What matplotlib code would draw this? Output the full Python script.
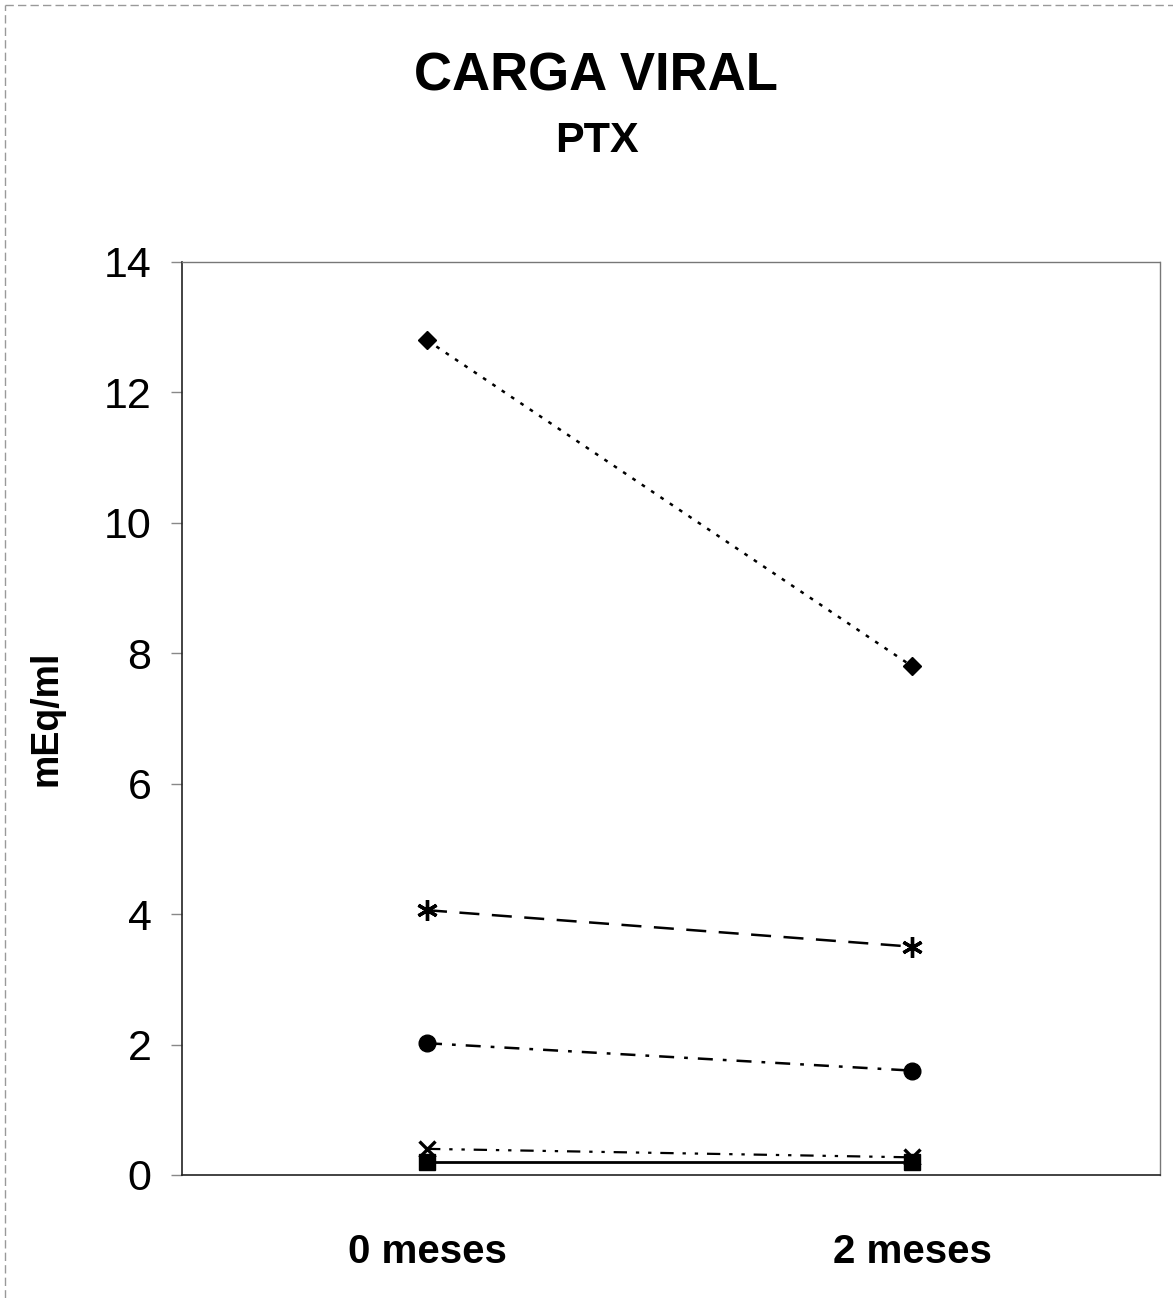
import matplotlib
matplotlib.use("Agg")
import matplotlib.pyplot as plt
from matplotlib.lines import Line2D

plt.rcParams['font.family'] = ['Liberation Sans', 'DejaVu Sans']

categories = ["0 meses", "2 meses"]
serie_diamante = [12.8, 7.8]
serie_asterisco = [4.06, 3.5]
serie_circulo = [2.02, 1.6]
serie_x = [0.4, 0.27]
serie_cuadrado = [0.2, 0.2]
yticks = [0, 2, 4, 6, 8, 10, 12, 14]

fig = plt.figure(figsize=(11.73, 12.98), dpi=100)
ax = fig.add_axes([0.1552, 0.0948, 0.8337, 0.7034])

xs = list(range(len(categories)))
ax.plot(xs, serie_diamante, linestyle=(0, (1.5, 3)), color='black', lw=1.8,
        marker='D', markersize=9.5, zorder=3)
ax.plot(xs, serie_asterisco, linestyle=(0, (8, 5)), color='black', lw=1.8,
        marker=(6, 2, 0), markersize=15, markeredgewidth=2.4, zorder=3)
ax.plot(xs, serie_circulo, linestyle=(0, (6, 4, 1.5, 4)), color='black', lw=1.8,
        marker='o', markersize=12, zorder=3)
ax.plot(xs, serie_x, linestyle=(0, (6, 4, 1.5, 4, 1.5, 4)), color='black', lw=1.6,
        marker='x', markersize=11, markeredgewidth=2.4, zorder=3)
ax.plot(xs, serie_cuadrado, linestyle='-', color='black', lw=2.0,
        marker='s', markersize=12, zorder=4)

ax.set_xlim(-0.505, 1.511)
ax.set_ylim(0, 14)
ax.set_yticks(yticks)
ax.set_yticklabels([str(v) for v in yticks], fontsize=31)
ax.set_xticks(xs)
ax.set_xticklabels(categories, fontsize=29, fontweight='bold')
ax.tick_params(axis='x', length=0, pad=42)
ax.tick_params(axis='y', length=8, width=1, color='#888888', pad=14)

for s in ['left', 'bottom']:
    ax.spines[s].set_color('#222222')
    ax.spines[s].set_linewidth(1.2)
for s in ['top', 'right']:
    ax.spines[s].set_color('#777777')
    ax.spines[s].set_linewidth(1.0)
    ax.spines[s].set_linestyle((0, (2, 1)))

ax.set_ylabel("mEq/ml", fontsize=27, fontweight='bold', labelpad=28)

fig.text(0.508, 0.941, "CARGA VIRAL", ha='center', va='center',
         fontsize=38, fontweight='bold')
fig.text(0.509, 0.891, "PTX", ha='center', va='center',
         fontsize=31, fontweight='bold')

# faint outer frame (scanned page border)
fig.add_artist(Line2D([0.004, 0.004], [0.0, 0.996], transform=fig.transFigure,
                      color='#999999', lw=1, linestyle=(0, (6, 3))))
fig.add_artist(Line2D([0.004, 1.0], [0.996, 0.996], transform=fig.transFigure,
                      color='#999999', lw=1, linestyle=(0, (6, 3))))

fig.savefig("out.png", dpi=100, facecolor='white')
